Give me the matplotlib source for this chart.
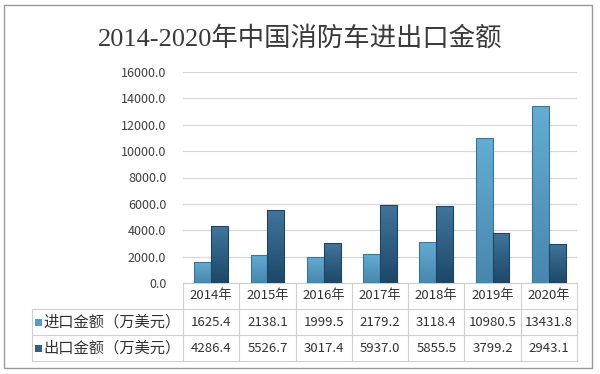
import matplotlib.pyplot as plt
import matplotlib.transforms as mtransforms
from matplotlib.colors import LinearSegmentedColormap
from matplotlib.patches import Rectangle
import numpy as np

plt.rcParams['font.family'] = ['Noto Sans CJK SC', 'DejaVu Sans']

years = ['2014年', '2015年', '2016年', '2017年', '2018年', '2019年', '2020年']
imports = [1625.4, 2138.1, 1999.5, 2179.2, 3118.4, 10980.5, 13431.8]
exports = [4286.4, 5526.7, 3017.4, 5937.0, 5855.5, 3799.2, 2943.1]
row_names = ['进口金额（万美元）', '出口金额（万美元）']

W, H = 600, 374
fig = plt.figure(figsize=(6, 3.74), dpi=100)
fig.patch.set_facecolor('white')

# outer frame
fig.patches.append(Rectangle((4 / W, 1 - 368 / H), 588 / W, 363 / H, transform=fig.transFigure,
                             fill=False, edgecolor='#9a9a9a', linewidth=1.0))

fig.text(0.5, 1 - 38 / H, '2014-2020年中国消防车进出口金额', ha='center', va='center',
         fontsize=19, color='#3a3a3a', family=['Liberation Serif', 'Noto Sans CJK SC'])

ax = fig.add_axes([183 / W, 1 - 283 / H, 394 / W, 211 / H])
x = np.arange(len(years))
w = 0.3
light = LinearSegmentedColormap.from_list('l', ['#4887ae', '#63acd3'])
dark = LinearSegmentedColormap.from_list('d', ['#1c4868', '#41759c'])

b1 = ax.bar(x - w / 2, imports, w, color='#569cc4', edgecolor='#3a7599', linewidth=0.8, zorder=3)
b2 = ax.bar(x + w / 2, exports, w, color='#2f6189', edgecolor='#1d4462', linewidth=0.8, zorder=3)
grad = np.linspace(0, 1, 100).reshape(-1, 1)
for bars, cm in [(b1, light), (b2, dark)]:
    for b in bars:
        x0, y0 = b.get_x(), b.get_y()
        im = ax.imshow(grad, cmap=cm, origin='lower', aspect='auto', zorder=3.5,
                       extent=[x0, x0 + b.get_width(), y0, y0 + b.get_height()])
        im.set_clip_path(b)
        b.set_facecolor('none')
        b.set_zorder(4)

ax.set_xlim(-0.5, len(years) - 0.5)
ax.set_ylim(0, 16000)
ax.set_yticks(np.arange(0, 16001, 2000))
ax.set_yticklabels([f'{v:.1f}' for v in np.arange(0, 16001, 2000)])
ax.tick_params(axis='y', length=0, pad=12, labelsize=9, labelcolor='#404040')
ax.set_xticks([])
ax.grid(axis='y', color='#d9d9d9', linewidth=0.9, zorder=0)
for s in ['top', 'right', 'left']:
    ax.spines[s].set_visible(False)
ax.spines['bottom'].set_color('#d0d0d0')

# data table under the axis
tr = mtransforms.blended_transform_factory(ax.transData, ax.transAxes)
px = lambda Y: (283 - Y) / 211
lc = '#cfcfcf'
left = (32 - 183) / 394
for xb in np.arange(-0.5, len(years), 1):
    ax.plot([xb, xb], [0, px(361)], color=lc, lw=0.8, transform=tr, clip_on=False)
for Y in [309, 335, 361]:
    ax.plot([left, 1], [px(Y), px(Y)], color=lc, lw=0.8, transform=ax.transAxes, clip_on=False)
ax.plot([left, left], [px(309), px(361)], color=lc, lw=0.8, transform=ax.transAxes, clip_on=False)

for i, yr in enumerate(years):
    ax.text(i, px(296), yr, transform=tr, ha='center', va='center', fontsize=9.5, color='#333333')
    ax.text(i, px(322), f'{imports[i]:.1f}', transform=tr, ha='center', va='center',
            fontsize=9.5, color='#333333')
    ax.text(i, px(348), f'{exports[i]:.1f}', transform=tr, ha='center', va='center',
            fontsize=9.5, color='#333333')

for name, Y, col in [(row_names[0], 322, '#569cc4'), (row_names[1], 348, '#2f6189')]:
    ax.add_patch(Rectangle(((35 - 183) / 394, px(Y + 3.5)), 7 / 394, 7 / 211,
                           transform=ax.transAxes, facecolor=col, edgecolor='none', clip_on=False))
    ax.text((43 - 183) / 394, px(Y), name, transform=ax.transAxes, ha='left', va='center',
            fontsize=11, color='#333333')

fig.savefig('out.png', dpi=100)
